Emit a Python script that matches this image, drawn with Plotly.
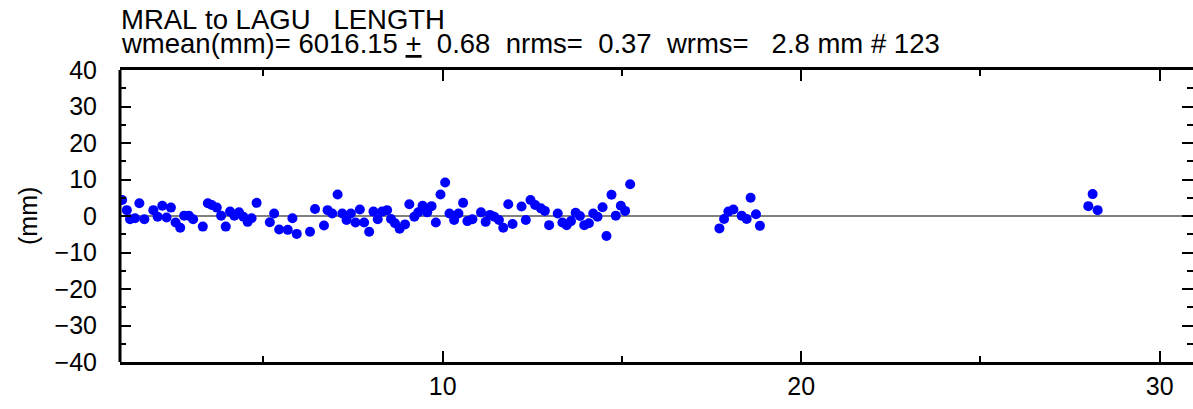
import plotly.graph_objects as go

# data (x in axis units, residual in mm)
x_vals = [1.06, 1.19, 1.28, 1.42, 1.54, 1.68, 1.93, 2.05, 2.18, 2.30, 2.42, 2.55, 2.68, 2.79, 2.92,
          3.04, 3.31, 3.45, 3.56, 3.70, 3.82, 3.95, 4.07, 4.19, 4.32, 4.44, 4.56, 4.67, 4.81,
          5.18, 5.30, 5.44, 5.68, 5.81, 5.93, 6.30, 6.44, 6.69, 6.79, 6.92, 7.07, 7.20, 7.32,
          7.44, 7.57, 7.69, 7.81, 7.95, 8.07, 8.19, 8.31, 8.45, 8.56, 8.67, 8.80, 8.95, 9.07,
          9.21, 9.32, 9.44, 9.57, 9.69, 9.81, 9.94, 10.07, 10.19, 10.32, 10.44, 10.57, 10.69,
          10.83, 11.07, 11.20, 11.32, 11.44, 11.57, 11.69, 11.83, 11.95, 12.20, 12.32, 12.45,
          12.58, 12.74, 12.85, 12.97, 13.21, 13.34, 13.46, 13.58, 13.71, 13.83, 13.95, 14.08,
          14.20, 14.32, 14.46, 14.57, 14.71, 14.83, 14.97, 15.09, 15.23,
          17.72, 17.85, 17.97, 18.11, 18.34, 18.48, 18.59, 18.74, 18.85,
          28.01, 28.13, 28.27]
y_vals = [4.4, 1.6, -0.9, -0.6, 3.5, -0.9, 1.6, -0.2, 2.8, -0.4, 2.3, -1.8, -3.2, 0.1, 0.1,
          -0.9, -2.9, 3.5, 3.0, 2.3, 0.1, -2.9, 1.2, 0.1, 1.0, -0.2, -1.6, -0.6, 3.6,
          -1.7, 0.7, -3.7, -3.8, -0.6, -4.9, -4.3, 1.9, -2.6, 1.6, 0.7, 5.9, 0.7, -1.1,
          0.7, -1.8, 1.8, -1.8, -4.3, 1.2, -0.9, 1.2, 1.6, -0.8, -2.0, -3.5, -2.3, 3.2,
          -0.2, 1.0, 2.8, 1.0, 2.7, -1.8, 5.9, 9.2, 0.7, -1.1, 0.7, 3.6, -1.4,
          -0.9, 1.0, -1.6, 0.3, -0.2, -1.1, -3.2, 3.2, -2.2, 2.6, -1.1, 4.4,
          3.0, 2.1, 1.4, -2.5, 0.7, -1.8, -2.5, -1.4, 0.9, 0.0, -2.5, -2.0,
          0.7, -0.2, 2.4, -5.5, 5.8, 0.1, 2.8, 1.4, 8.7,
          -3.4, -0.8, 1.2, 1.8, 0.1, -0.8, 5.0, 0.5, -2.7,
          2.7, 6.0, 1.6]

x_range = [1, 30.93]
y_range = [-40, 40]
x_tick_step = 10
y_tick_step = 10

title_line1 = "MRAL to LAGU   LENGTH"
title_line2 = "wmean(mm)= 6016.15 <u>+</u>  0.68  nrms=  0.37  wrms=   2.8 mm # 123"
y_title = "(mm)"

def nb(s):
    return s.replace(" ", "\u00a0")

FONT = "Liberation Sans, Arial, Helvetica, sans-serif"

fig = go.Figure()
fig.add_trace(go.Scatter(
    x=x_vals, y=y_vals, mode="markers",
    marker=dict(color="#0000ff", size=10, line=dict(width=0)),
    showlegend=False, hoverinfo="skip",
))

fig.update_layout(
    width=1193, height=409, autosize=False,
    margin=dict(l=120, r=0, t=70, b=47, autoexpand=False),
    paper_bgcolor="white", plot_bgcolor="white",
    font=dict(family=FONT, color="black", size=25),
    xaxis=dict(
        range=x_range, dtick=x_tick_step, tick0=0,
        showgrid=False, zeroline=False,
        showline=True, linecolor="black", linewidth=3, mirror="allticks",
        ticks="inside", ticklen=11, tickwidth=2, tickcolor="black",
        minor=dict(dtick=5, tick0=0, ticks="inside", ticklen=6, tickwidth=2, tickcolor="black", showgrid=False),
        tickfont=dict(size=25, family=FONT), ticklabelstandoff=0,
    ),
    yaxis=dict(
        range=y_range, dtick=y_tick_step, tick0=0,
        showgrid=False, zeroline=True, zerolinecolor="#808080", zerolinewidth=2,
        showline=False, mirror="ticks",
        ticks="inside", ticklen=11, tickwidth=2, tickcolor="black",
        minor=dict(dtick=5, tick0=0, ticks="inside", ticklen=6, tickwidth=2, tickcolor="black", showgrid=False),
        tickfont=dict(size=25, family=FONT), ticklabelstandoff=22,
    ),
    shapes=[dict(type="line", xref="paper", yref="paper", x0=0, x1=0, y0=0, y1=1,
                 line=dict(color="black", width=3))],
    annotations=[
        dict(text=nb(title_line1), xref="paper", yref="paper", x=0, y=1,
             xanchor="left", yanchor="middle", yshift=51, showarrow=False,
             borderpad=0, font=dict(size=27.5, family=FONT)),
        dict(text=nb(title_line2), xref="paper", yref="paper", x=0, y=1,
             xanchor="left", yanchor="middle", yshift=27, showarrow=False,
             borderpad=0, font=dict(size=27.5, family=FONT)),
        dict(text=y_title, xref="paper", yref="paper", x=0, y=0.5,
             xanchor="center", yanchor="middle", xshift=-92, textangle=-90,
             showarrow=False, font=dict(size=25, family=FONT)),
    ],
)

post = "document.body.style.margin='0';document.body.style.overflow='hidden';"
fig.write_html("out.html", post_script=post, config={"displayModeBar": False})
